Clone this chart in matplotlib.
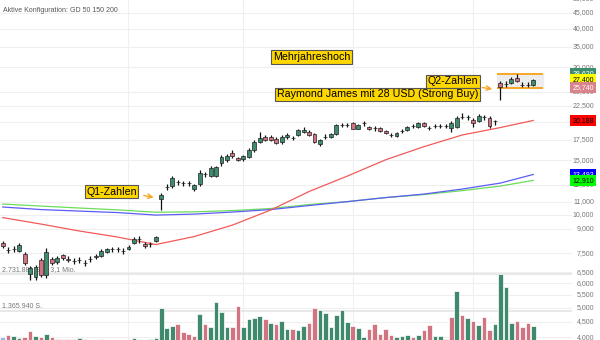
import numpy as np
import matplotlib.pyplot as plt
from matplotlib.transforms import blended_transform_factory

plt.rcParams['font.family'] = ['Liberation Sans', 'DejaVu Sans']

# daily candles (USD)
opens = [8090, 7700, 7720, 7620, 7450, 6420, 6280, 7120, 6370, 7180,
         7020, 7400, 7180, 7070, 7120, 6970, 7170, 7340, 7340, 7560,
         7730, 7740, 7620, 7730, 8090, 8330, 8030, 8030, 8210, 11230,
         12280, 12380, 12740, 12650, 12660, 12100, 12560, 13520, 13330, 13330,
         14690, 15020, 15830, 15250, 15140, 15360, 16190, 17190, 17870, 17870,
         17570, 17150, 17830, 17740, 18110, 18480, 18560, 18250, 16930, 17870,
         17870, 18250, 19500, 19510, 19840, 19000, 19750, 19250, 19050, 19050,
         18700, 18110, 17970, 18650, 18800, 19350, 19270, 19760, 19120, 19360,
         19370, 19350, 19040, 19250, 20760, 20670, 20250, 20100, 20680, 20510,
         20100, 26750, 26430, 26640, 27770, 26290, 26300, 26290]
highs = [8210, 7850, 7910, 8090, 7560, 6810, 6860, 7230, 7790, 7280,
         7340, 7450, 7340, 7230, 7280, 7120, 7340, 7450, 7730, 7790,
         7850, 7850, 7790, 7970, 8460, 8520, 8150, 8150, 8520, 11740,
         12560, 13330, 12940, 12850, 12850, 12560, 13940, 13740, 14370, 14370,
         15590, 15710, 16190, 15360, 15590, 16430, 17440, 18520, 18110, 18110,
         17870, 18110, 18380, 18040, 18940, 19220, 18800, 18380, 17570, 18250,
         18380, 19660, 19800, 19800, 19950, 19660, 20100, 19360, 19360, 19220,
         18800, 18380, 18520, 18940, 19360, 19660, 19950, 19950, 19360, 19660,
         19660, 19660, 20100, 20860, 21380, 21000, 20560, 21160, 21000, 20860,
         20250, 27100, 27100, 27920, 28620, 26890, 26890, 27500]
lows = [7790, 7510, 7560, 7560, 6860, 6140, 6140, 6280, 6230, 6860,
        6920, 7120, 7020, 6920, 6970, 6810, 7020, 7180, 7280, 7510,
        7560, 7560, 7450, 7680, 8030, 8090, 7790, 7850, 8150, 10350,
        12010, 12190, 12470, 12380, 12380, 11920, 12380, 13240, 13240, 13240,
        14370, 14800, 15250, 14910, 14910, 15250, 15950, 17060, 17310, 17310,
        16930, 16930, 17570, 17440, 17970, 18380, 17970, 17060, 16680, 17570,
        17700, 18110, 19220, 19220, 18940, 18940, 19360, 18800, 18660, 18520,
        18250, 17830, 17830, 18380, 18660, 19080, 19080, 19220, 18800, 19080,
        19080, 19080, 18560, 19080, 20400, 20250, 19250, 19950, 20250, 19080,
        19510, 23510, 25870, 26470, 26890, 25900, 25900, 26100]
closes = [7910, 7670, 7750, 7970, 6970, 6710, 6760, 6370, 7560, 6970,
          7230, 7230, 7150, 7080, 7130, 6980, 7190, 7280, 7620, 7730,
          7740, 7730, 7630, 7850, 8330, 8340, 7910, 8040, 8460, 11570,
          12300, 13140, 12760, 12660, 12650, 12470, 13630, 13540, 14150, 14260,
          15360, 15480, 15480, 15020, 15480, 16190, 17190, 17700, 17440, 17440,
          17100, 17870, 18110, 17750, 18800, 18800, 18110, 17150, 17440, 17880,
          18250, 19510, 19520, 19500, 19000, 19510, 19760, 18900, 19040, 18700,
          18420, 18100, 18330, 18660, 19270, 19360, 19760, 19360, 19110, 19370,
          19360, 19370, 19840, 20600, 20770, 20680, 19750, 20920, 20670, 19360,
          20110, 25950, 26440, 27500, 27160, 26300, 26290, 27400]

# traded shares per day and bar colour (g up, r down, b unchanged)
volumes = [388000, 451000, 426000, 350000, 388000, 602000, 426000, 388000, 477000, 388000,
           301000, 301000, 301000, 301000, 327000, 301000, 235000, 225000, 286000, 235000,
           215000, 225000, 235000, 245000, 327000, 301000, 276000, 301000, 350000, 1456000,
           704000, 791000, 865000, 577000, 489000, 414000, 1242000, 854000, 740000, 1703000,
           1305000, 765000, 765000, 1555000, 765000, 1054000, 1103000, 1178000, 1041000, 890000,
           865000, 989000, 677000, 677000, 640000, 803000, 890000, 1479000, 1392000, 1292000,
           740000, 1203000, 1392000, 940000, 791000, 704000, 365000, 689000, 854000, 489000,
           677000, 451000, 388000, 426000, 451000, 376000, 451000, 628000, 816000, 414000,
           402000, 301000, 1129000, 2118000, 1216000, 1103000, 978000, 827000, 1117000, 651000,
           865000, 2746000, 2246000, 903000, 967000, 740000, 915000, 803000]
vol_dir = ("brggrrgrgr" "gbrrgrgrbg" "grrggbrggg" "ggrrrrgrgg" "ggrrggggrg"
           "rggrggrrgg" "ggggrggrrr" "rrgggrgrrg" "grrgrgrgrr" "ggggrrrg")

# moving averages (GD 50 / 150 / 200)
ma_idx = [0, 7, 14, 21, 28, 35, 42, 49, 56, 63, 70, 77, 84, 91, 97]
gd50 = [9780, 9320, 8850, 8460, 8000, 8490, 9250, 10350, 11880, 13330, 15050, 16600, 18110, 19150, 20188]
gd150 = [10585, 10384, 10268, 10155, 9966, 10040, 10193, 10384, 10700, 11018, 11356, 11657, 12100, 12655, 13493]
gd200 = [10820, 10660, 10505, 10360, 10180, 10210, 10306, 10465, 10780, 11018, 11356, 11614, 11960, 12375, 12910]

# price scale ticks and right-hand value tags
tick_vals = [4000, 4500, 5000, 5500, 6000, 6500, 7500, 9000, 10000, 11000, 12500,
             15000, 17500, 20000, 22500, 25000, 30000, 35000, 40000, 45000, 50000]
month_lines = [22.9, 43.9, 64.0, 86.0]
range_hi, last_price, range_lo = 28620, 27400, 25740
vol_marks = [1365940, 2731881]

up_c, down_c = '#3d8c6b', '#d4737f'
vol_cols = {'g': '#3f8a6d', 'r': '#cf7480', 'b': '#9db4e4'}

fig = plt.figure(figsize=(6, 3.4), dpi=100)
rect = [0, 0, 572 / 600, 1]
ax = fig.add_axes(rect)
vol_ax = fig.add_axes(rect, sharex=ax)
vol_ax.patch.set_alpha(0)

x = np.arange(len(closes))
ax.set_yscale('log')
ax.set_ylim(3925, 49580)
ax.set_xlim(-0.494, 104.08)
vol_ax.set_ylim(263410, 13057610)

for s in ax.spines.values():
    s.set_visible(False)
ax.set_xticks([])
ax.set_yticks([])
ax.minorticks_off()
vol_ax.set_axis_off()

# grid
for t in tick_vals:
    ax.axhline(t, color='#efefef', lw=0.8, zorder=0)
for m in month_lines:
    ax.axvline(m, color='#efefef', lw=0.8, zorder=0)

yt = blended_transform_factory(fig.transFigure, ax.transData)
for t in tick_vals:
    ax.text(594 / 600, t, f"{t:,}", transform=yt, ha='right', va='center',
            fontsize=5, color='#777777', clip_on=False)

# volume reference lines and labels
vt = blended_transform_factory(ax.transAxes, vol_ax.transData)
for v in vol_marks:
    ax.plot([0, 1], [v, v], transform=vt, color='#e2e2e2', lw=1.1, zorder=1)
ax.text(0.004, vol_marks[0] + 40000, "1.365.940 S.", transform=vt, fontsize=5,
        color='#777777', va='bottom', zorder=1)
ax.text(0.004, vol_marks[1] + 40000, "2.731.881 S. = 3,1 Mio.", transform=vt, fontsize=5,
        color='#777777', va='bottom', zorder=1)

# trading range after Q2
ax.fill_between([90.4, 98.8], range_lo, range_hi, color='#ececec', zorder=1)
ax.hlines([range_hi, range_lo], 90.4, 98.8, color='#f7a823', lw=1.4, zorder=2)

# moving averages
ax.plot(ma_idx, gd200, color='#6ddc5c', lw=0.9, zorder=2)
ax.plot(ma_idx, gd150, color='#5c5cf5', lw=0.9, zorder=2)
ax.plot(ma_idx, gd50, color='#f25a5a', lw=0.9, zorder=2)

# candles
o = np.array(opens); c = np.array(closes)
cols = np.where(c >= o, up_c, down_c)
ax.vlines(x, lows, highs, color='#111111', lw=0.9, zorder=3)
ax.bar(x, np.abs(c - o), bottom=np.minimum(o, c), width=0.72, color=cols,
       edgecolor='#222222', lw=0.5, zorder=4)

# volume
vol_ax.bar(x, volumes, width=0.84, color=[vol_cols[d] for d in vol_dir],
           edgecolor='white', lw=0.5)

# value tags
tags = [(range_hi, '#3d8c6b', 'white'), (last_price, '#ffff00', 'black'),
        (range_lo, '#d9838c', 'white'), (gd50[-1], '#ff0000', 'black'),
        (gd150[-1], '#0000ff', 'white'), (gd200[-1], '#00ff00', 'black')]
for val, bg, fg in tags:
    ax.text(594 / 600, val, f"{val:,}", transform=yt, ha='right', va='center',
            fontsize=5, color=fg, clip_on=False, zorder=10,
            bbox=dict(boxstyle='square,pad=0.3', fc=bg, ec='none'))

# news labels
box = dict(boxstyle='square,pad=0.15', fc='#ffd700', ec='#555555', lw=0.8)
ax.text(56.5, 32400, "Mehrjahreshoch", ha='center', va='center', fontsize=7.7, bbox=box, zorder=8)
ax.text(86.9, 27000, "Q2-Zahlen", ha='right', va='center', fontsize=7.7, bbox=box, zorder=8)
ax.text(86.9, 24500, "Raymond James mit 28 USD (Strong Buy)", ha='right', va='center',
        fontsize=7.7, bbox=box, zorder=8)
ax.text(19.9, 11870, "Q1-Zahlen", ha='center', va='center', fontsize=7.7, bbox=box, zorder=8)

arrow = dict(arrowstyle='->', color='#f5a623', lw=1, mutation_scale=8)
ax.annotate('', xy=(90.0, 25460), xytext=(87.2, 25880), arrowprops=arrow, zorder=8)
ax.annotate('', xy=(28.1, 11340), xytext=(25.3, 11571), arrowprops=arrow, zorder=8)

fig.text(3 / 600, 1 - 10 / 340, "Aktive Konfiguration: GD 50 150 200", fontsize=5,
         color='#555555', va='center')

fig.savefig('out.png', dpi=100)
